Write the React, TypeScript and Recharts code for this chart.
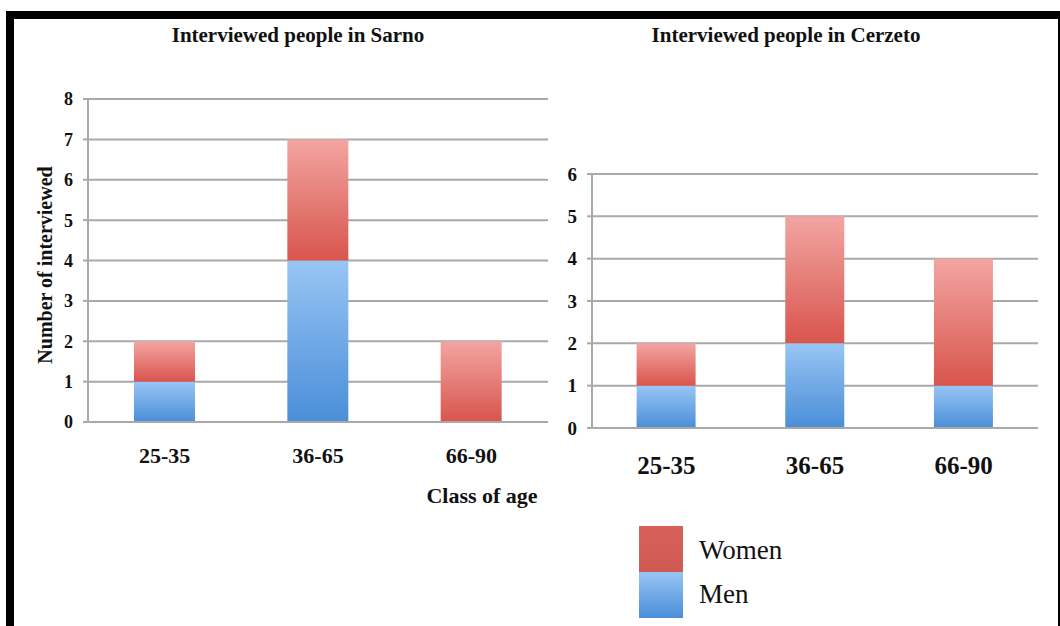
import { BarChart, Bar, XAxis, YAxis, CartesianGrid } from "recharts"

const ageClasses = ["25-35", "36-65", "66-90"]
const sarnoMen = [1, 4, 0]
const sarnoWomen = [1, 3, 2]
const cerzetoMen = [1, 2, 1]
const cerzetoWomen = [1, 3, 3]
const sarnoTicks = [0, 1, 2, 3, 4, 5, 6, 7, 8]
const cerzetoTicks = [0, 1, 2, 3, 4, 5, 6]

const serif = "'Liberation Serif', 'DejaVu Serif', serif"
const grid = "#a9a9a9"

const sarnoData = ageClasses.map((c, i) => ({ age: c, men: sarnoMen[i], women: sarnoWomen[i] }))
const cerzetoData = ageClasses.map((c, i) => ({ age: c, men: cerzetoMen[i], women: cerzetoWomen[i] }))

function Grads({ id }: { id: string }) {
  return (
    <defs>
      <linearGradient id={"blue" + id} x1="0" y1="0" x2="0" y2="1">
        <stop offset="0%" stopColor="#98c5f4" />
        <stop offset="100%" stopColor="#4a8ed8" />
      </linearGradient>
      <linearGradient id={"red" + id} x1="0" y1="0" x2="0" y2="1">
        <stop offset="0%" stopColor="#f3a5a2" />
        <stop offset="100%" stopColor="#d8554d" />
      </linearGradient>
    </defs>
  )
}

export default function App() {
  return (
    <div style={{ position: "absolute", left: 0, top: 0, width: 1060, height: 626, background: "#fff", overflow: "hidden", fontFamily: serif }}>
      <div style={{ position: "absolute", left: 6, top: 11, width: 1060, height: 640, borderLeft: "8px solid #000", borderTop: "8px solid #000", boxSizing: "border-box" }} />
      <div style={{ position: "absolute", left: 1058, top: 11, width: 2, height: 626, background: "#000" }} />

      <div style={{ position: "absolute", left: 98, top: 23, width: 400, textAlign: "center", fontWeight: "bold", fontSize: 21, color: "#111" }}>
        Interviewed people in Sarno
      </div>
      <div style={{ position: "absolute", left: 586, top: 23, width: 400, textAlign: "center", fontWeight: "bold", fontSize: 21, color: "#111" }}>
        Interviewed people in Cerzeto
      </div>

      <div style={{ position: "absolute", left: 47 - 130, top: 265 - 13, width: 260, height: 26, textAlign: "center", transform: "rotate(-90deg)", fontWeight: "bold", fontSize: 20, color: "#111" }}>
        Number of interviewed
      </div>
      <div style={{ position: "absolute", left: 402, top: 483, width: 160, textAlign: "center", fontWeight: "bold", fontSize: 22, color: "#111" }}>
        Class of age
      </div>

      <div style={{ position: "absolute", left: 0, top: 0 }}>
        <BarChart width={560} height={626} data={sarnoData} margin={{ top: 99, right: 12, left: 48, bottom: 174 }} barCategoryGap="30%">
          <Grads id="s" />
          <CartesianGrid vertical={false} stroke={grid} strokeWidth={2} />
          <XAxis dataKey="age" height={30} tickLine={false} axisLine={{ stroke: grid, strokeWidth: 2 }} tickMargin={19}
            tick={{ fontFamily: serif, fontWeight: "bold", fontSize: 22, fill: "#111" }} />
          <YAxis width={40} domain={[0, 8]} ticks={sarnoTicks} interval={0} axisLine={{ stroke: grid, strokeWidth: 2 }}
            tickLine={{ stroke: grid, strokeWidth: 2 }} tickSize={5} tickMargin={10}
            tick={{ fontFamily: serif, fontWeight: "bold", fontSize: 18, fill: "#111" }} />
          <Bar dataKey="men" stackId="a" fill="url(#blues)" isAnimationActive={false} />
          <Bar dataKey="women" stackId="a" fill="url(#reds)" isAnimationActive={false} />
        </BarChart>
      </div>

      <div style={{ position: "absolute", left: 530, top: 0 }}>
        <BarChart width={530} height={626} data={cerzetoData} margin={{ top: 174, right: 22, left: 22, bottom: 168 }} barCategoryGap="30%">
          <Grads id="c" />
          <CartesianGrid vertical={false} stroke={grid} strokeWidth={2} />
          <XAxis dataKey="age" height={30} tickLine={false} axisLine={{ stroke: grid, strokeWidth: 2 }} tickMargin={22}
            tick={{ fontFamily: serif, fontWeight: "bold", fontSize: 25, fill: "#111" }} />
          <YAxis width={40} domain={[0, 6]} ticks={cerzetoTicks} interval={0} axisLine={{ stroke: grid, strokeWidth: 2 }}
            tickLine={{ stroke: grid, strokeWidth: 2 }} tickSize={5} tickMargin={10}
            tick={{ fontFamily: serif, fontWeight: "bold", fontSize: 19, fill: "#111" }} />
          <Bar dataKey="men" stackId="a" fill="url(#bluec)" isAnimationActive={false} />
          <Bar dataKey="women" stackId="a" fill="url(#redc)" isAnimationActive={false} />
        </BarChart>
      </div>

      <div style={{ position: "absolute", left: 639, top: 526, width: 44, height: 46, background: "linear-gradient(#d9605a, #cf5a54)" }} />
      <div style={{ position: "absolute", left: 639, top: 572, width: 44, height: 46, background: "linear-gradient(#98c5f4, #4a8ed8)" }} />
      <div style={{ position: "absolute", left: 699, top: 535, fontSize: 27, color: "#111" }}>Women</div>
      <div style={{ position: "absolute", left: 699, top: 579, fontSize: 27, color: "#111" }}>Men</div>
    </div>
  )
}
